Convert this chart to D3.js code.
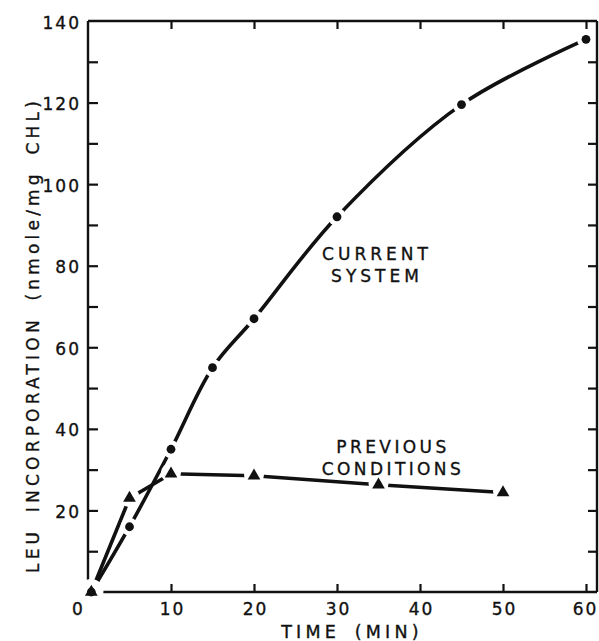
<!DOCTYPE html>
<html>
<head>
<meta charset="utf-8">
<script src="https://cdn.jsdelivr.net/npm/d3@7"></script>
<style>
  html, body { margin: 0; padding: 0; background: #fff; }
  svg { display: block; }
  text { font-family: "DejaVu Sans", sans-serif; fill: #111; stroke: #111; stroke-width: 0.35px; }
</style>
</head>
<body>
<svg id="chart" width="599" height="641"></svg>
<script>
// Leucine incorporation over time, two assay systems
const currentTimes  = [0.4, 5, 10, 15, 20, 30, 45, 60];
const currentValues = [0, 16, 35, 55, 67, 92, 119.5, 135.5];
const previousTimes  = [0.4, 5, 10, 20, 35, 50];
const previousValues = [0, 23, 29, 28.5, 26.3, 24.4];

const xTicks = [0, 10, 20, 30, 40, 50, 60];
const yTicks = [20, 40, 60, 80, 100, 120, 140];
const yMinorTicks = [10, 20, 30, 40, 50, 60, 70, 80, 90, 100, 110, 120, 130];
const xTitle = "TIME (MIN)";
const yTitle = "LEU INCORPORATION (nmole/mg CHL)";
const currentLabel = ["CURRENT", "SYSTEM"];
const previousLabel = ["PREVIOUS", "CONDITIONS"];

const svg = d3.select("#chart");
const mLeft = 88, mRight = 597, mTop = 21, mBottom = 592;

const x = d3.scaleLinear().domain([0, 60]).range([mLeft, 586]);
const y = d3.scaleLinear().domain([0, 140]).range([mBottom, mTop]);

const ink = "#111";

// frame: left axis (open at the origin), bottom axis, top and right borders
const frame = svg.append("g").attr("stroke", ink).attr("stroke-width", 2.4).attr("fill", "none");
frame.append("line").attr("x1", mLeft).attr("x2", mLeft).attr("y1", mTop).attr("y2", y(3));
frame.append("line").attr("x1", x(1.4)).attr("x2", mRight).attr("y1", mBottom).attr("y2", mBottom);
frame.append("line").attr("x1", mLeft).attr("x2", mRight).attr("y1", mTop).attr("y2", mTop);
frame.append("line").attr("x1", mRight).attr("x2", mRight).attr("y1", mTop).attr("y2", mBottom);

// left axis: inward ticks every 10, labels every 20
const yAxis = d3.axisLeft(y)
  .tickValues(yMinorTicks.concat([140]))
  .tickSizeInner(-10).tickSizeOuter(0).tickPadding(8)
  .tickFormat(d => yTicks.includes(d) ? d : "");
const gy = svg.append("g").attr("transform", `translate(${mLeft},0)`).call(yAxis);
gy.select(".domain").remove();
gy.selectAll(".tick line").attr("stroke", ink).attr("stroke-width", 2.2)
  .attr("display", d => d === 140 ? "none" : null);
gy.selectAll(".tick text")
  .attr("x", -7).attr("dy", "0.42em")
  .style("font-size", "17px").style("letter-spacing", "2px").attr("fill", ink);

// right border ticks
const gr = svg.append("g").attr("transform", `translate(${mRight},0)`)
  .call(d3.axisRight(y).tickValues(yMinorTicks).tickSizeInner(-9).tickSizeOuter(0).tickFormat(""));
gr.select(".domain").remove();
gr.selectAll(".tick line").attr("stroke", ink).attr("stroke-width", 2.2);

// top border ticks
const gt = svg.append("g").attr("transform", `translate(0,${mTop})`)
  .call(d3.axisTop(x).tickValues(xTicks.slice(1)).tickSizeInner(-8).tickSizeOuter(0).tickFormat(""));
gt.select(".domain").remove();
gt.selectAll(".tick line").attr("stroke", ink).attr("stroke-width", 2.2);

// bottom axis: inward ticks, labels below
const gx = svg.append("g").attr("transform", `translate(0,${mBottom})`)
  .call(d3.axisBottom(x).tickValues(xTicks).tickSizeInner(-8).tickSizeOuter(0).tickPadding(0)
    .tickFormat(d => d));
gx.select(".domain").remove();
gx.selectAll(".tick line").attr("stroke", ink).attr("stroke-width", 2.2)
  .attr("display", d => d === 0 ? "none" : null);
gx.selectAll(".tick text")
  .attr("y", 23).attr("dy", 0)
  .attr("dx", d => d === 0 ? -10 : (d === 60 ? -1 : 1))
  .style("font-size", "17px").style("letter-spacing", "2px").attr("fill", ink);

// axis titles
svg.append("text")
  .attr("x", 352).attr("y", 638).attr("text-anchor", "middle")
  .style("font-size", "17.5px").style("letter-spacing", "4.2px").style("word-spacing", "5px")
  .text(xTitle);
svg.append("text")
  .attr("transform", `translate(39,335) rotate(-90)`)
  .attr("text-anchor", "middle")
  .style("font-size", "17px").style("letter-spacing", "4.2px").style("word-spacing", "6px")
  .text(yTitle);

// series lines
const curPts = currentTimes.map((t, i) => [x(t), y(currentValues[i])]);
const prevPts = previousTimes.map((t, i) => [x(t), y(previousValues[i])]);

svg.append("path")
  .attr("d", d3.line().curve(d3.curveCatmullRom.alpha(0.5))(curPts))
  .attr("fill", "none").attr("stroke", ink).attr("stroke-width", 3.6);
svg.append("path")
  .attr("d", d3.line()(prevPts))
  .attr("fill", "none").attr("stroke", ink).attr("stroke-width", 3.6);

// white halos break each line around its markers
const halos = svg.append("g");
halos.selectAll("circle.c").data(curPts).join("circle").attr("class", "c")
  .attr("cx", d => d[0]).attr("cy", d => d[1])
  .attr("r", (d, i) => i === 0 ? 12 : 9).attr("fill", "#fff");
halos.selectAll("circle.p").data(prevPts).join("circle").attr("class", "p")
  .attr("cx", d => d[0]).attr("cy", d => d[1] - 1)
  .attr("r", (d, i) => i === 0 ? 12 : 10).attr("fill", "#fff");

// markers
svg.append("g").selectAll("path").data(prevPts).join("path")
  .attr("transform", d => `translate(${d[0]},${d[1]})`)
  .attr("d", d3.symbol().type(d3.symbolTriangle).size(70))
  .attr("fill", ink);
svg.append("g").selectAll("circle").data(curPts).join("circle")
  .attr("cx", d => d[0]).attr("cy", d => d[1]).attr("r", 4.4)
  .attr("fill", ink);

// series labels
function label(lines, cx, y0, ls) {
  const t = svg.append("text").attr("text-anchor", "middle")
    .style("font-size", "17px").style("letter-spacing", ls + "px");
  lines.forEach((s, i) => t.append("tspan").attr("x", cx).attr("y", y0 + i * 22).text(s));
}
label(currentLabel, 377, 260, 4);
label(previousLabel, 393, 453, 3.4);
</script>
</body>
</html>
